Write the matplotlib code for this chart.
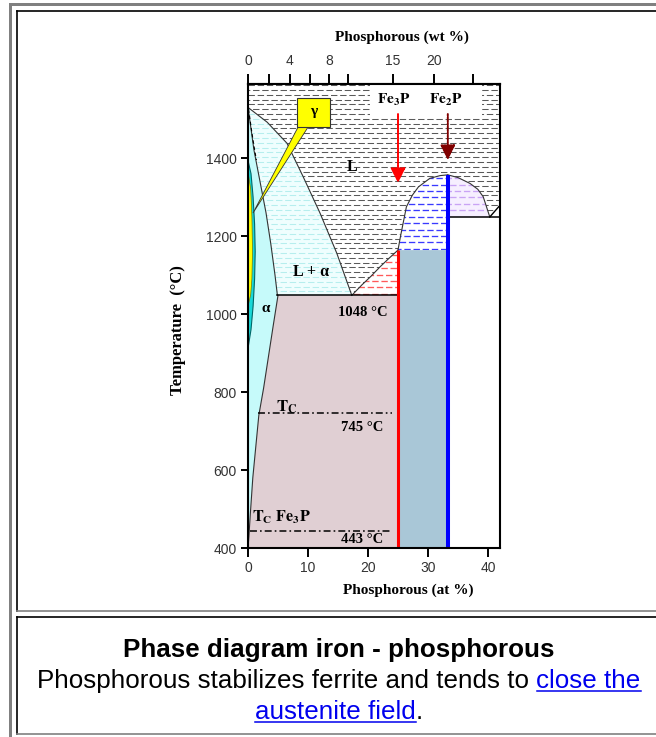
import numpy as np
import matplotlib
matplotlib.use("Agg")
import matplotlib.pyplot as plt
from matplotlib.patches import Polygon, Rectangle
from matplotlib.lines import Line2D

plt.rcParams["lines.scale_dashes"] = False
plt.rcParams["mathtext.fontset"] = "stix"

W_PX, H_PX = 656, 737

# ---- phase diagram data (at.% P, temperature degC) ----
liq_left_at = [0.0, 3.2, 6.5, 9.2, 12.0, 14.8, 17.3]
liq_left_T = [1530, 1492, 1438, 1352, 1259, 1156, 1048]

solidus_at = [0.0, 1.0, 2.0, 3.0, 3.8, 4.5, 4.9]
solidus_T = [1530, 1420, 1340, 1260, 1180, 1100, 1048]

solvus_at = [5.0, 4.2, 3.4, 2.6, 1.8, 1.3, 0.8, 0.4, 0.15, 0.0]
solvus_T = [1048, 970, 890, 810, 740, 660, 580, 490, 430, 400]

gamma_outer_at = [0.0, 0.5, 0.85, 1.1, 1.2, 1.1, 0.85, 0.5, 0.0]
gamma_outer_T = [1394, 1360, 1300, 1230, 1160, 1090, 1020, 960, 912]
gamma_inner_at = [0.0, 0.45, 0.65, 0.75, 0.65, 0.45, 0.0]
gamma_inner_T = [1365, 1320, 1250, 1160, 1090, 1050, 1020]

mag_at = [0.1, 0.6, 1.0, 1.4]
mag_T = [1525, 1470, 1430, 1395]

liq_fe3p_at = [17.3, 19.0, 20.5, 22.0, 23.5, 25.0]
liq_fe3p_T = [1048, 1075, 1097, 1121, 1143, 1164]
liq_fe2p_l_at = [25.0, 25.4, 26.4, 27.4, 28.4, 30.3, 32.0, 33.3]
liq_fe2p_l_T = [1164, 1198, 1275, 1305, 1326, 1348, 1355, 1357]
liq_fe2p_r_at = [33.3, 35.0, 37.0, 38.3, 39.2, 40.3]
liq_fe2p_r_T = [1357, 1350, 1335, 1320, 1301, 1249]
liq_end_at = [40.3, 42.0]
liq_end_T = [1249, 1279]

FE3P_AT, FE2P_AT = 25.0, 33.3
T_EUT, T_PERI, T_EUT2 = 1048, 1164, 1249
T_CURIE, T_CURIE_FE3P = 745, 443

X_MIN, X_MAX = 0, 42
T_MIN, T_MAX = 400, 1590

at_ticks = [0, 10, 20, 30, 40]
T_ticks = [400, 600, 800, 1000, 1200, 1400]
wt_ticks = [0, 2, 4, 6, 8, 10, 15, 20, 25]
wt_labels = ["0", "", "4", "", "8", "", "15", "20", ""]


def at_to_wt(a):
    a = np.asarray(a, float)
    return 100 * 30.97 * a / (30.97 * a + 55.85 * (100 - a))


def wt_to_at(w):
    w = np.asarray(w, float)
    return 100 * (w / 30.97) / (w / 30.97 + (100 - w) / 55.85)


def fx(x):
    return x / W_PX


def fy(y):
    return 1 - y / H_PX


fig = plt.figure(figsize=(W_PX / 100, H_PX / 100), dpi=100)
fig.patch.set_facecolor("white")

# ---- page frame ----
gray = "#808080"
fig.add_artist(Rectangle((fx(9), 0), 3 / W_PX, fy(3), color=gray, lw=0))
fig.add_artist(Rectangle((fx(9), fy(6)), 1, 3 / H_PX, color=gray, lw=0))
for top, bot in [(11, 611), (617, 734)]:
    fig.add_artist(Line2D([fx(17), 1], [fy(top), fy(top)], color="black", lw=1.2))
    fig.add_artist(Line2D([fx(17), fx(17)], [fy(top), fy(bot)], color="black", lw=1.2))
    fig.add_artist(Line2D([fx(17), 1], [fy(bot), fy(bot)], color=gray, lw=1.2))

ax = fig.add_axes([fx(248), fy(548), 252 / W_PX, 464 / H_PX])
ax.set_xlim(X_MIN, X_MAX)
ax.set_ylim(T_MIN, T_MAX)


def region(xs, ys, face, z=1):
    p = Polygon(np.column_stack([xs, ys]), closed=True, facecolor=face,
                edgecolor="none", zorder=z)
    ax.add_patch(p)
    return p


def dash_rows(poly, color, step, dash=(4.6, 2.0), lw=0.75, z=1.5):
    rows = np.arange(T_MIN + step / 2, T_MAX + step, step)
    for i, t in enumerate(rows):
        off = 0 if i % 2 == 0 else (dash[0] + dash[1]) / 2
        ln, = ax.plot([X_MIN, X_MAX], [t, t], color=color, lw=lw,
                      ls=(off, dash), zorder=z)
        ln.set_clip_path(poly)


cat = np.concatenate

# liquid
L_x = cat([[X_MIN, X_MAX, X_MAX], liq_end_at[::-1], liq_fe2p_r_at[::-1][1:],
           liq_fe2p_l_at[::-1][1:], liq_fe3p_at[::-1][1:], liq_left_at[::-1][1:]])
L_y = cat([[T_MAX, T_MAX, liq_end_T[-1]], liq_end_T[::-1], liq_fe2p_r_T[::-1][1:],
           liq_fe2p_l_T[::-1][1:], liq_fe3p_T[::-1][1:], liq_left_T[::-1][1:]])
pL = region(L_x, L_y, "white")
dash_rows(pL, "#5a5a5a", 12.3)

# L + alpha
pLa = region(cat([liq_left_at, solidus_at[::-1]]),
             cat([liq_left_T, solidus_T[::-1]]), "#effefe")
dash_rows(pLa, "#b6eeee", 12.3)

# alpha
region(cat([[0.0], solidus_at, solvus_at]), cat([[T_MIN], solidus_T, solvus_T]), "#c6fafa")

# alpha + Fe3P
region(cat([solvus_at, [FE3P_AT, FE3P_AT]]), cat([solvus_T, [T_MIN, T_EUT]]), "#e0cfd3")

# L + Fe3P
pLf3 = region(cat([liq_fe3p_at, [FE3P_AT]]), cat([liq_fe3p_T, [T_EUT]]), "white")
dash_rows(pLf3, "#ff5a5a", 16.5, lw=0.95)

# Fe3P + Fe2P
region([FE3P_AT, FE2P_AT, FE2P_AT, FE3P_AT], [T_MIN, T_MIN, T_PERI, T_PERI], "#a9c7d7")

# L + Fe2P (left)
pLf2 = region(cat([liq_fe2p_l_at, [FE2P_AT]]), cat([liq_fe2p_l_T, [T_PERI]]), "white")
dash_rows(pLf2, "#3a3aff", 16.5, lw=0.95)

# L + Fe2P (right)
pLf2r = region(cat([liq_fe2p_r_at, [FE2P_AT]]), cat([liq_fe2p_r_T, [T_EUT2]]), "#f6efff")
dash_rows(pLf2r, "#c9a3f5", 16.5, lw=0.95)

# gamma loop
ax.fill(gamma_outer_at, gamma_outer_T, facecolor="#19d8d8", edgecolor="#006868", lw=0.8, zorder=3)
ax.fill(gamma_inner_at, gamma_inner_T, facecolor="#ffff00", edgecolor="#7a7a00", lw=0.5, zorder=3.1)

# boundaries
bc = "#333333"
ax.plot(liq_left_at, liq_left_T, color=bc, lw=0.8, zorder=4)
ax.plot(solidus_at, solidus_T, color=bc, lw=0.8, zorder=4)
ax.plot(solvus_at, solvus_T, color=bc, lw=0.8, zorder=4)
ax.plot(liq_fe3p_at, liq_fe3p_T, color=bc, lw=0.8, zorder=4)
ax.plot(liq_fe2p_l_at, liq_fe2p_l_T, color=bc, lw=0.8, zorder=4)
ax.plot(liq_fe2p_r_at, liq_fe2p_r_T, color=bc, lw=0.8, zorder=4)
ax.plot(liq_end_at, liq_end_T, color="black", lw=1.0, zorder=4)
ax.plot(mag_at, mag_T, color="black", lw=0.8, ls=(0, (2.5, 2)), zorder=4)
ax.plot([solidus_at[-1], FE3P_AT], [T_EUT, T_EUT], color="black", lw=1.1, zorder=4)
ax.plot([FE2P_AT, X_MAX], [T_EUT2, T_EUT2], color="black", lw=1.1, zorder=4)

# compound lines
ax.plot([FE3P_AT, FE3P_AT], [T_MIN, T_PERI], color="#ff0000", lw=2.2, zorder=5, solid_capstyle="butt")
ax.plot([FE2P_AT, FE2P_AT], [T_MIN, liq_fe2p_l_T[-1]], color="#0000ff", lw=2.9, zorder=5, solid_capstyle="butt")

# Curie temperatures
ax.plot([1.7, 24.0], [T_CURIE, T_CURIE], color="black", lw=1.1, ls=(0, (5, 2.2, 1.2, 2.2)), zorder=4)
ax.plot([0.3, 24.0], [T_CURIE_FE3P, T_CURIE_FE3P], color="black", lw=1.1, ls=(0, (5, 2.2, 1.2, 2.2)), zorder=4)

# label box at the top
ax.add_patch(Rectangle((20.3, 1505), 18.7, T_MAX - 1505, facecolor="white", edgecolor="none", zorder=5))

serif = ["Liberation Serif", "DejaVu Serif"]
lab = dict(family=serif, fontweight="bold", color="black", zorder=7)
ax.text(24.3, 1549, r"$\mathbf{Fe_3P}$", fontsize=11, ha="center", va="center", **lab)
ax.text(33.0, 1549, r"$\mathbf{Fe_2P}$", fontsize=11, ha="center", va="center", **lab)
ax.annotate("", xy=(FE3P_AT, 1336), xytext=(FE3P_AT, 1513), zorder=6,
            arrowprops=dict(arrowstyle="-|>,head_length=0.9,head_width=0.45", color="#ff0000",
                            lw=1.4, ls=(0, (1.2, 1.0)), shrinkA=0, shrinkB=0))
ax.annotate("", xy=(FE2P_AT, 1395), xytext=(FE2P_AT, 1513), zorder=6,
            arrowprops=dict(arrowstyle="-|>,head_length=0.9,head_width=0.45", color="#800000",
                            lw=1.4, ls=(0, (1.2, 1.0)), shrinkA=0, shrinkB=0))

# gamma callout
ax.fill([8.5, 10.2, 0.83], [1484, 1484, 1259], facecolor="#ffff00", edgecolor="#333333", lw=0.6, zorder=6)
ax.add_patch(Rectangle((8.2, 1479), 5.5, 75, facecolor="#ffff00", edgecolor="#333333", lw=0.8, zorder=6.5))
ax.text(10.95, 1519, "γ", fontsize=11, ha="center", va="center", **lab)

ax.text(17.3, 1377, "L", fontsize=11.5, ha="center", va="center", **lab)
ax.text(10.5, 1108, "L + α", fontsize=11.5, ha="center", va="center", **lab)
ax.text(3.0, 1013, "α", fontsize=11, ha="center", va="center", **lab)
ax.text(19.2, 1005, "1048 °C", fontsize=10.5, ha="center", va="center", **lab)
ax.text(6.5, 762, r"$\mathbf{T_C}$", fontsize=12, ha="center", va="center", **lab)
ax.text(19.0, 708, "745 °C", fontsize=10.5, ha="center", va="center", **lab)
ax.text(5.5, 480, r"$\mathbf{T_C\ Fe_3P}$", fontsize=11.5, ha="center", va="center", **lab)
ax.text(19.0, 421, "443 °C", fontsize=10.5, ha="center", va="center", **lab)

# axes styling
for s in ax.spines.values():
    s.set_linewidth(1.5)
    s.set_zorder(8)
tick_font = dict(family=["Liberation Sans", "DejaVu Sans"], size=10, color="#333333")
ax.set_xticks(at_ticks)
ax.set_yticks(T_ticks)
ax.set_xticklabels([str(v) for v in at_ticks], **tick_font)
ax.set_yticklabels([str(v) for v in T_ticks], **tick_font)
ax.tick_params(axis="x", direction="out", length=6.5, width=1.4, pad=3)
ax.tick_params(axis="y", direction="out", length=5, width=1.4, pad=3)

sec = ax.secondary_xaxis("top", functions=(at_to_wt, wt_to_at))
sec.set_xticks(wt_ticks, wt_labels, **tick_font)
sec.tick_params(direction="out", length=7.2, width=1.4, pad=4)
sec.spines["top"].set_linewidth(1.5)

axis_lab = dict(family=serif, fontweight="bold", fontsize=11, color="black")
fig.text(fx(402), fy(37), "Phosphorous (wt %)", ha="center", va="center", **axis_lab)
fig.text(fx(408), fy(590), "Phosphorous (at %)", ha="center", va="center", **axis_lab)
fig.text(fx(178), fy(330), "Temperature  (°C)", ha="center", va="center", rotation=90,
         family=serif, fontweight="bold", fontsize=12, color="black")

# ---- caption ----
cap_font = dict(family=["Liberation Sans", "DejaVu Sans"], fontsize=18.7)
link = "#0000ee"
cx = fx(339)
renderer = fig.canvas.get_renderer()


def width_px(s, **kw):
    t = fig.text(0, 0, s, **kw)
    w = t.get_window_extent(renderer).width
    t.remove()
    return w


def underline(t, y_base):
    bb = t.get_window_extent(renderer)
    fig.add_artist(Line2D([bb.x0 / W_PX, bb.x1 / W_PX], [fy(y_base + 2.5)] * 2, color=link, lw=1.1))


fig.text(cx, fy(657), "Phase diagram iron - phosphorous", ha="center", va="baseline",
         fontweight="bold", color="black", **cap_font)

pre, lk = "Phosphorous stabilizes ferrite and tends to ", "close the"
wfull = width_px(pre + lk, **cap_font)
left = cx - wfull / 2 / W_PX
fig.text(left, fy(688), pre, ha="left", va="baseline", color="black", **cap_font)
t2 = fig.text(left + wfull / W_PX, fy(688), lk, ha="right", va="baseline", color=link, **cap_font)
underline(t2, 688)

lk3 = "austenite field"
wfull3 = width_px(lk3 + ".", **cap_font)
left3 = cx - wfull3 / 2 / W_PX
t3 = fig.text(left3, fy(719), lk3, ha="left", va="baseline", color=link, **cap_font)
fig.text(left3 + wfull3 / W_PX, fy(719), ".", ha="right", va="baseline", color="black", **cap_font)
underline(t3, 719)

fig.savefig("out.png", dpi=100, facecolor="white")
